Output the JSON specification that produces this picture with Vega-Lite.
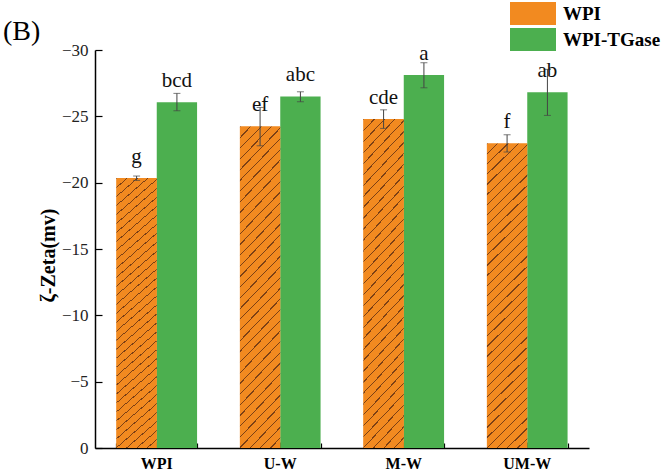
{
  "$schema": "https://vega.github.io/schema/vega-lite/v6.json",
  "width": 494,
  "height": 398,
  "autosize": {"type": "none"},
  "padding": {"left": 95, "top": 50, "right": 80, "bottom": 25},
  "background": "white",
  "title": {"text": "(B)", "anchor": "start", "frame": "group", "dx": -92, "dy": 66, "offset": 0, "baseline": "alphabetic", "fontSize": 28, "font": "Liberation Serif", "fontWeight": "normal", "color": "#000"},
  "config": {
    "view": {"stroke": null},
    "font": "Liberation Serif",
    "axis": {"grid": false, "tickColor": "#000", "tickWidth": 1.2, "domainColor": "#000", "domainWidth": 1.5}
  },
  "data": {"values": [
    {"group": "WPI", "series": "WPI", "value": -20.35, "lo": -20.17, "hi": -20.5, "label": "g"},
    {"group": "WPI", "series": "WPI-TGase", "value": -26.07, "lo": -25.42, "hi": -26.73, "label": "bcd"},
    {"group": "U-W", "series": "WPI", "value": -24.24, "lo": -22.78, "hi": -25.67, "label": "ef"},
    {"group": "U-W", "series": "WPI-TGase", "value": -26.5, "lo": -26.1, "hi": -26.85, "label": "abc"},
    {"group": "M-W", "series": "WPI", "value": -24.79, "lo": -24.09, "hi": -25.49, "label": "cde"},
    {"group": "M-W", "series": "WPI-TGase", "value": -28.11, "lo": -27.15, "hi": -29.04, "label": "a"},
    {"group": "UM-W", "series": "WPI", "value": -22.96, "lo": -22.31, "hi": -23.61, "label": "f"},
    {"group": "UM-W", "series": "WPI-TGase", "value": -26.81, "lo": -25.07, "hi": -28.54, "label": "ab"}
  ]},
  "layer": [
    {
      "mark": {"type": "bar"},
      "encoding": {
        "x": {"field": "group", "type": "nominal", "sort": ["WPI", "U-W", "M-W", "UM-W"], "scale": {"paddingInner": 0.347, "paddingOuter": 0.1735},
              "axis": {"orient": "bottom", "title": null, "labelAngle": 0, "labelFont": "Liberation Serif", "labelFontWeight": "bold", "labelFontSize": 16, "labelColor": "#000", "tickSize": -6, "labelPadding": 13}},
        "xOffset": {"field": "series", "type": "nominal", "scale": {"domain": ["WPI", "WPI-TGase"], "paddingInner": 0, "paddingOuter": 0}},
        "y": {"field": "value", "type": "quantitative", "title": "ζ-Zeta(mv)", "scale": {"domain": [0, -30], "nice": false},
              "axis": {"values": [0, -5, -10, -15, -20, -25, -30], "tickSize": -7, "labelPadding": 14, "labelFont": "Liberation Serif", "labelFontSize": 17, "labelColor": "#222", "titleFont": "Liberation Serif", "titleFontWeight": "bold", "titleFontSize": 20, "titleColor": "#000", "titleX": -47, "titleY": 205, "titleBaseline": "middle", "titleAlign": "center", "titleAngle": -90}},
        "color": {"field": "series", "type": "nominal", "scale": {"domain": ["WPI", "WPI-TGase"], "range": ["#F28A20", "#4CAF4F"]},
                  "legend": {"orient": "none", "legendX": 426.5, "legendY": -48, "title": null, "symbolType": "M-2,-1H2V1H-2Z", "symbolSize": 529, "symbolStrokeWidth": 0, "symbolOpacity": 1, "labelFont": "Liberation Serif", "labelFontWeight": "bold", "labelFontSize": 19, "labelColor": "#000", "rowPadding": 3, "labelOffset": 18.5}}
      }
    },
    {
      "transform": [{"filter": "datum.series === 'WPI'"}],
      "mark": {"type": "bar", "fill": {"gradient": "linear", "x1": 1, "y1": 1, "x2": 0.8555, "y2": -0.1112, "stops": [
        {"offset": 0, "color": "#F28A20"}, {"offset": 0.0259, "color": "#F28A20"}, {"offset": 0.0259, "color": "#7C4015"}, {"offset": 0.0294, "color": "#7C4015"},
        {"offset": 0.0294, "color": "#F28A20"}, {"offset": 0.0553, "color": "#F28A20"}, {"offset": 0.0553, "color": "#7C4015"}, {"offset": 0.0588, "color": "#7C4015"},
        {"offset": 0.0588, "color": "#F28A20"}, {"offset": 0.0847, "color": "#F28A20"}, {"offset": 0.0847, "color": "#7C4015"}, {"offset": 0.0882, "color": "#7C4015"},
        {"offset": 0.0882, "color": "#F28A20"}, {"offset": 0.1141, "color": "#F28A20"}, {"offset": 0.1141, "color": "#7C4015"}, {"offset": 0.1176, "color": "#7C4015"},
        {"offset": 0.1176, "color": "#F28A20"}, {"offset": 0.1435, "color": "#F28A20"}, {"offset": 0.1435, "color": "#7C4015"}, {"offset": 0.1471, "color": "#7C4015"},
        {"offset": 0.1471, "color": "#F28A20"}, {"offset": 0.1730, "color": "#F28A20"}, {"offset": 0.1730, "color": "#7C4015"}, {"offset": 0.1765, "color": "#7C4015"},
        {"offset": 0.1765, "color": "#F28A20"}, {"offset": 0.2024, "color": "#F28A20"}, {"offset": 0.2024, "color": "#7C4015"}, {"offset": 0.2059, "color": "#7C4015"},
        {"offset": 0.2059, "color": "#F28A20"}, {"offset": 0.2318, "color": "#F28A20"}, {"offset": 0.2318, "color": "#7C4015"}, {"offset": 0.2353, "color": "#7C4015"},
        {"offset": 0.2353, "color": "#F28A20"}, {"offset": 0.2612, "color": "#F28A20"}, {"offset": 0.2612, "color": "#7C4015"}, {"offset": 0.2647, "color": "#7C4015"},
        {"offset": 0.2647, "color": "#F28A20"}, {"offset": 0.2906, "color": "#F28A20"}, {"offset": 0.2906, "color": "#7C4015"}, {"offset": 0.2941, "color": "#7C4015"},
        {"offset": 0.2941, "color": "#F28A20"}, {"offset": 0.3200, "color": "#F28A20"}, {"offset": 0.3200, "color": "#7C4015"}, {"offset": 0.3235, "color": "#7C4015"},
        {"offset": 0.3235, "color": "#F28A20"}, {"offset": 0.3494, "color": "#F28A20"}, {"offset": 0.3494, "color": "#7C4015"}, {"offset": 0.3529, "color": "#7C4015"},
        {"offset": 0.3529, "color": "#F28A20"}, {"offset": 0.3788, "color": "#F28A20"}, {"offset": 0.3788, "color": "#7C4015"}, {"offset": 0.3824, "color": "#7C4015"},
        {"offset": 0.3824, "color": "#F28A20"}, {"offset": 0.4083, "color": "#F28A20"}, {"offset": 0.4083, "color": "#7C4015"}, {"offset": 0.4118, "color": "#7C4015"},
        {"offset": 0.4118, "color": "#F28A20"}, {"offset": 0.4377, "color": "#F28A20"}, {"offset": 0.4377, "color": "#7C4015"}, {"offset": 0.4412, "color": "#7C4015"},
        {"offset": 0.4412, "color": "#F28A20"}, {"offset": 0.4671, "color": "#F28A20"}, {"offset": 0.4671, "color": "#7C4015"}, {"offset": 0.4706, "color": "#7C4015"},
        {"offset": 0.4706, "color": "#F28A20"}, {"offset": 0.4965, "color": "#F28A20"}, {"offset": 0.4965, "color": "#7C4015"}, {"offset": 0.5, "color": "#7C4015"},
        {"offset": 0.5, "color": "#F28A20"}, {"offset": 0.5259, "color": "#F28A20"}, {"offset": 0.5259, "color": "#7C4015"}, {"offset": 0.5294, "color": "#7C4015"},
        {"offset": 0.5294, "color": "#F28A20"}, {"offset": 0.5553, "color": "#F28A20"}, {"offset": 0.5553, "color": "#7C4015"}, {"offset": 0.5588, "color": "#7C4015"},
        {"offset": 0.5588, "color": "#F28A20"}, {"offset": 0.5847, "color": "#F28A20"}, {"offset": 0.5847, "color": "#7C4015"}, {"offset": 0.5882, "color": "#7C4015"},
        {"offset": 0.5882, "color": "#F28A20"}, {"offset": 0.6141, "color": "#F28A20"}, {"offset": 0.6141, "color": "#7C4015"}, {"offset": 0.6176, "color": "#7C4015"},
        {"offset": 0.6176, "color": "#F28A20"}, {"offset": 0.6435, "color": "#F28A20"}, {"offset": 0.6435, "color": "#7C4015"}, {"offset": 0.6471, "color": "#7C4015"},
        {"offset": 0.6471, "color": "#F28A20"}, {"offset": 0.6730, "color": "#F28A20"}, {"offset": 0.6730, "color": "#7C4015"}, {"offset": 0.6765, "color": "#7C4015"},
        {"offset": 0.6765, "color": "#F28A20"}, {"offset": 0.7024, "color": "#F28A20"}, {"offset": 0.7024, "color": "#7C4015"}, {"offset": 0.7059, "color": "#7C4015"},
        {"offset": 0.7059, "color": "#F28A20"}, {"offset": 0.7318, "color": "#F28A20"}, {"offset": 0.7318, "color": "#7C4015"}, {"offset": 0.7353, "color": "#7C4015"},
        {"offset": 0.7353, "color": "#F28A20"}, {"offset": 0.7612, "color": "#F28A20"}, {"offset": 0.7612, "color": "#7C4015"}, {"offset": 0.7647, "color": "#7C4015"},
        {"offset": 0.7647, "color": "#F28A20"}, {"offset": 0.7906, "color": "#F28A20"}, {"offset": 0.7906, "color": "#7C4015"}, {"offset": 0.7941, "color": "#7C4015"},
        {"offset": 0.7941, "color": "#F28A20"}, {"offset": 0.8200, "color": "#F28A20"}, {"offset": 0.8200, "color": "#7C4015"}, {"offset": 0.8235, "color": "#7C4015"},
        {"offset": 0.8235, "color": "#F28A20"}, {"offset": 0.8494, "color": "#F28A20"}, {"offset": 0.8494, "color": "#7C4015"}, {"offset": 0.8529, "color": "#7C4015"},
        {"offset": 0.8529, "color": "#F28A20"}, {"offset": 0.8788, "color": "#F28A20"}, {"offset": 0.8788, "color": "#7C4015"}, {"offset": 0.8824, "color": "#7C4015"},
        {"offset": 0.8824, "color": "#F28A20"}, {"offset": 0.9083, "color": "#F28A20"}, {"offset": 0.9083, "color": "#7C4015"}, {"offset": 0.9118, "color": "#7C4015"},
        {"offset": 0.9118, "color": "#F28A20"}, {"offset": 0.9377, "color": "#F28A20"}, {"offset": 0.9377, "color": "#7C4015"}, {"offset": 0.9412, "color": "#7C4015"},
        {"offset": 0.9412, "color": "#F28A20"}, {"offset": 0.9671, "color": "#F28A20"}, {"offset": 0.9671, "color": "#7C4015"}, {"offset": 0.9706, "color": "#7C4015"},
        {"offset": 0.9706, "color": "#F28A20"}, {"offset": 0.9965, "color": "#F28A20"}, {"offset": 0.9965, "color": "#7C4015"}, {"offset": 1, "color": "#7C4015"}
      ]}},
      "encoding": {
        "x": {"field": "group", "type": "nominal", "sort": ["WPI", "U-W", "M-W", "UM-W"], "axis": null},
        "xOffset": {"field": "series", "type": "nominal", "scale": {"domain": ["WPI", "WPI-TGase"]}},
        "y": {"field": "value", "type": "quantitative", "title": "ζ-Zeta(mv)", "scale": {"domain": [0, -30], "nice": false}}
      }
    },
    {
      "mark": {"type": "rule", "color": "#444", "strokeWidth": 1},
      "encoding": {
        "x": {"field": "group", "type": "nominal", "sort": ["WPI", "U-W", "M-W", "UM-W"],
              "axis": {"orient": "bottom", "title": null, "tickBand": "extent", "labels": false, "domain": false, "tickSize": -5}},
        "xOffset": {"field": "series", "type": "nominal", "scale": {"domain": ["WPI", "WPI-TGase"]}},
        "y": {"field": "lo", "type": "quantitative", "title": "ζ-Zeta(mv)", "scale": {"domain": [0, -30], "nice": false}},
        "y2": {"field": "hi"}
      }
    },
    {
      "mark": {"type": "tick", "orient": "horizontal", "size": 7, "thickness": 1, "color": "#444"},
      "encoding": {
        "x": {"field": "group", "type": "nominal", "sort": ["WPI", "U-W", "M-W", "UM-W"], "axis": null},
        "xOffset": {"field": "series", "type": "nominal", "scale": {"domain": ["WPI", "WPI-TGase"]}},
        "y": {"field": "hi", "type": "quantitative", "title": "ζ-Zeta(mv)", "scale": {"domain": [0, -30], "nice": false}}
      }
    },
    {
      "mark": {"type": "tick", "orient": "horizontal", "size": 7, "thickness": 1, "color": "#444"},
      "encoding": {
        "x": {"field": "group", "type": "nominal", "sort": ["WPI", "U-W", "M-W", "UM-W"], "axis": null},
        "xOffset": {"field": "series", "type": "nominal", "scale": {"domain": ["WPI", "WPI-TGase"]}},
        "y": {"field": "lo", "type": "quantitative", "title": "ζ-Zeta(mv)", "scale": {"domain": [0, -30], "nice": false}}
      }
    },
    {
      "mark": {"type": "text", "dy": -15, "baseline": "alphabetic", "align": "center", "fontSize": 21, "font": "Liberation Serif", "color": "#111"},
      "encoding": {
        "x": {"field": "group", "type": "nominal", "sort": ["WPI", "U-W", "M-W", "UM-W"], "axis": null},
        "xOffset": {"field": "series", "type": "nominal", "scale": {"domain": ["WPI", "WPI-TGase"]}},
        "y": {"field": "value", "type": "quantitative", "title": "ζ-Zeta(mv)", "scale": {"domain": [0, -30], "nice": false}},
        "text": {"field": "label", "type": "nominal"}
      }
    }
  ],
  "resolve": {"axis": {"x": "independent"}}
}
